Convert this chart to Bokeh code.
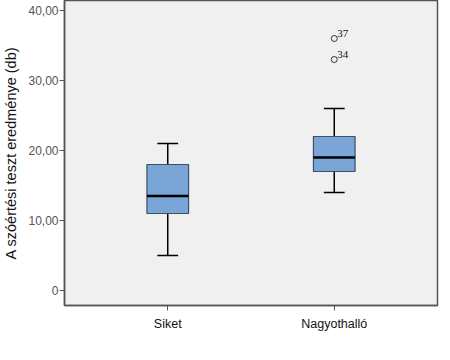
from bokeh.plotting import figure
from bokeh.models import ColumnDataSource, FactorRange, Range1d, FixedTicker
from bokeh.transform import dodge
from bokeh.embed import file_html
from bokeh.resources import INLINE

groups = ["Siket", "Nagyothalló"]
lower_whisker = [5, 14]
q1 = [11, 17]
median = [13.5, 19]
q3 = [18, 22]
upper_whisker = [21, 26]

outlier_groups = ["Nagyothalló", "Nagyothalló"]
outlier_values = [36, 33]
outlier_labels = ["37", "34"]

y_ticks = [0, 10, 20, 30, 40]
y_tick_labels = ["0", "10,00", "20,00", "30,00", "40,00"]

FONT = "Liberation Sans"

p = figure(width=440, height=344, output_backend="svg", toolbar_location=None,
           x_range=FactorRange(factors=groups, range_padding=0.12),
           y_range=Range1d(-2.14, 41.43),
           min_border_left=54, min_border_right=3, min_border_top=0, min_border_bottom=39)
p.background_fill_color = "#f0f0f0"
p.border_fill_color = "white"
p.outline_line_color = "#555555"
p.outline_line_width = 1.5
p.xgrid.visible = False
p.ygrid.visible = False

src = ColumnDataSource(dict(groups=groups, lw=lower_whisker, q1=q1, med=median, q3=q3, uw=upper_whisker))

# whiskers
p.segment(x0="groups", y0="q3", x1="groups", y1="uw", source=src, line_color="black", line_width=1.5)
p.segment(x0="groups", y0="lw", x1="groups", y1="q1", source=src, line_color="black", line_width=1.5)
p.segment(x0=dodge("groups", -0.0625, range=p.x_range), y0="uw",
          x1=dodge("groups", 0.0625, range=p.x_range), y1="uw", source=src, line_color="black", line_width=1.5)
p.segment(x0=dodge("groups", -0.0625, range=p.x_range), y0="lw",
          x1=dodge("groups", 0.0625, range=p.x_range), y1="lw", source=src, line_color="black", line_width=1.5)

# boxes
p.vbar(x="groups", bottom="q1", top="q3", width=0.25, source=src,
       fill_color="#79a5d7", line_color="#3d4f66", line_width=1.2)
p.segment(x0=dodge("groups", -0.125, range=p.x_range), y0="med",
          x1=dodge("groups", 0.125, range=p.x_range), y1="med", source=src, line_color="black", line_width=2.5)

# outliers
osrc = ColumnDataSource(dict(g=outlier_groups, v=outlier_values, lab=outlier_labels))
p.scatter(x="g", y="v", source=osrc, marker="circle", size=6, fill_color="#f0f0f0",
          line_color="#333333", line_width=1)
p.text(x="g", y="v", text="lab", source=osrc, x_offset=3, y_offset=-2,
       text_font_size="11px", text_color="#111111", text_baseline="bottom", text_align="left",
       text_font=FONT)

# y axis
p.yaxis.ticker = FixedTicker(ticks=y_ticks)
p.yaxis.major_label_overrides = {t: l for t, l in zip(y_ticks, y_tick_labels)}
p.yaxis.minor_tick_line_color = None
p.yaxis.major_tick_out = 5
p.yaxis.major_tick_in = 0
p.yaxis.axis_line_color = "#555555"
p.yaxis.axis_line_width = 1.5
p.yaxis.major_tick_line_color = "#555555"
p.yaxis.major_label_text_font = FONT
p.yaxis.major_label_text_font_size = "12px"
p.yaxis.major_label_text_color = "#555555"
p.yaxis.major_label_standoff = 1
p.yaxis.axis_label = "A szóértési teszt eredménye (db)"
p.yaxis.axis_label_text_font = FONT
p.yaxis.axis_label_text_font_size = "14.5px"
p.yaxis.axis_label_text_font_style = "normal"
p.yaxis.axis_label_text_color = "#111111"
p.yaxis.axis_label_standoff = 6

# x axis
p.xaxis.major_tick_out = 5
p.xaxis.major_tick_in = 0
p.xaxis.axis_line_color = "#555555"
p.xaxis.axis_line_width = 1.5
p.xaxis.major_tick_line_color = "#555555"
p.xaxis.major_label_text_font = FONT
p.xaxis.major_label_text_font_size = "12.5px"
p.xaxis.major_label_text_color = "#111111"
p.xaxis.major_label_standoff = 6

open("out.html", "w").write(file_html(p, INLINE))
